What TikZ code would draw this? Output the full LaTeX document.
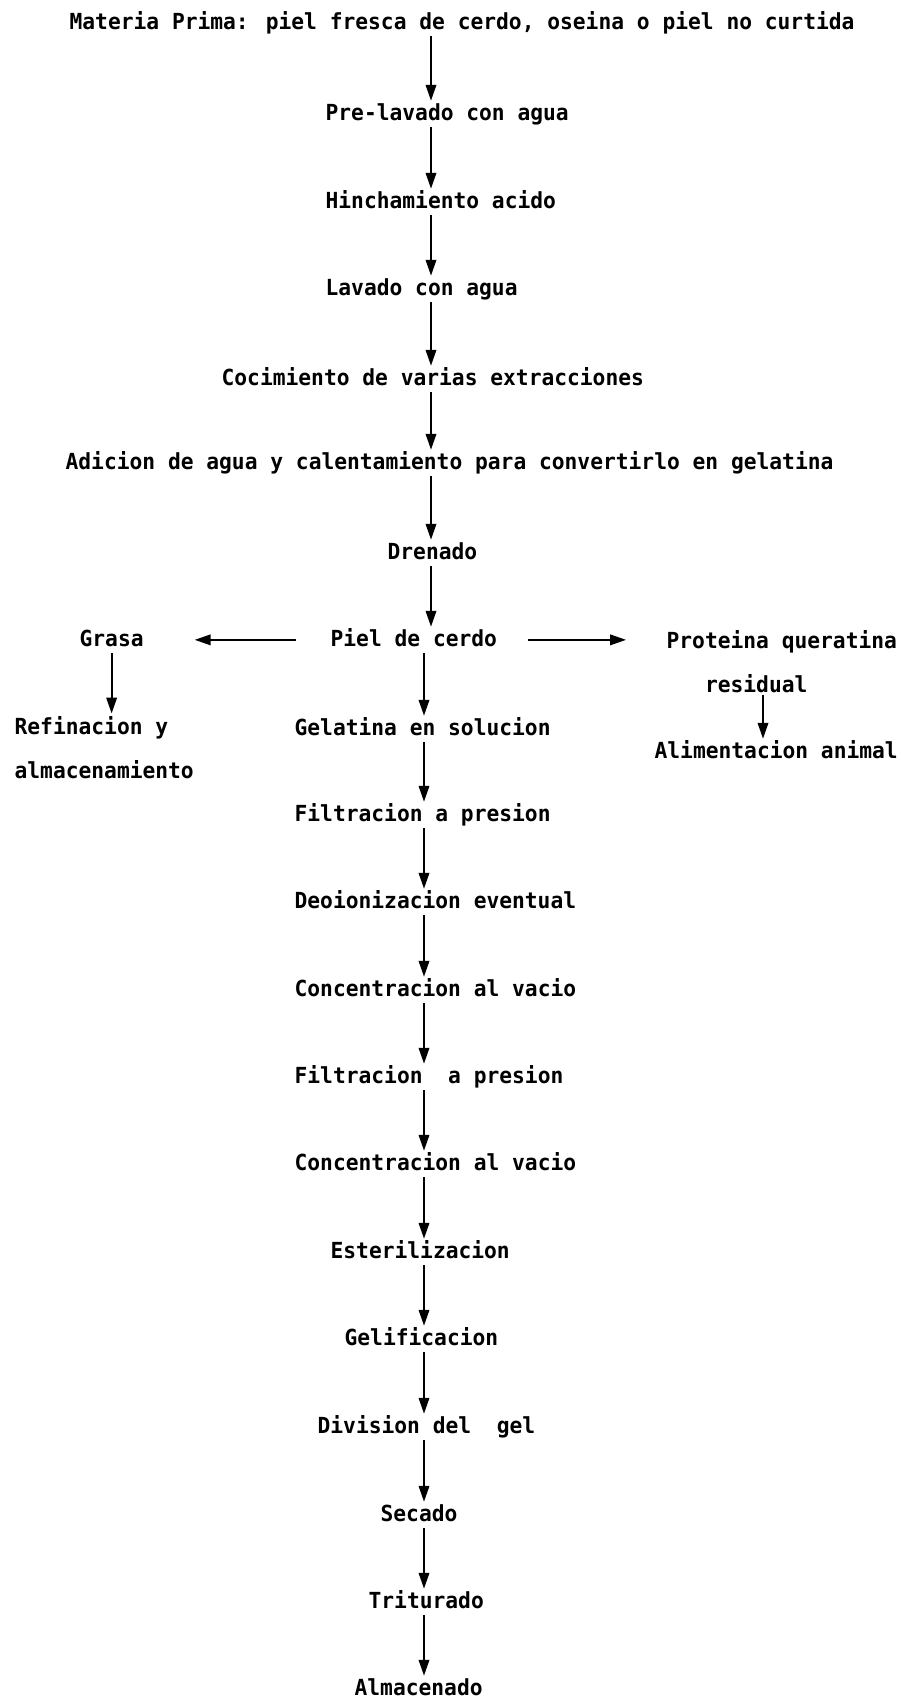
\documentclass[tikz,border=0pt]{standalone}
\usepackage{fontspec}
\usepackage{tikz}
\usetikzlibrary{arrows.meta}
\newfontfamily\pixfont{DejaVu Sans Mono}[FakeStretch=0.96]
\newcommand{\letra}{\pixfont\bfseries\fontsize{12.6pt}{25pt}\selectfont}

\begin{document}
\begin{tikzpicture}[
    paso/.style={font=\letra, inner sep=0pt, outer sep=1.5pt, anchor=base west,
      text height=9.5pt, text depth=2.5pt},
    bloque/.style={font=\letra, inner sep=0pt, outer sep=1.5pt, anchor=base west, align=left},
    flecha/.style={line width=1pt, -{Triangle[length=9pt,width=6pt]}},
]
\useasboundingbox (0,0) rectangle (18,-33.96);

% ---------- etapas hasta la piel ----------
\node[paso] (materia) at (1.34,-0.58) {Materia Prima: piel fresca de cerdo, oseina o piel no curtida};
\node[paso] (prelav)  at (6.46,-2.40) {Pre-lavado con agua};
\node[paso] (hinch)   at (6.46,-4.16) {Hinchamiento acido};
\node[paso] (lavado)  at (6.46,-5.90) {Lavado con agua};
\node[paso] (cocim)   at (4.38,-7.70) {Cocimiento de varias extracciones};
\node[paso] (adicion) at (1.26,-9.38) {Adicion de agua y calentamiento para convertirlo en gelatina};
\node[paso] (drenado) at (7.70,-11.18) {Drenado};
\node[paso] (piel)    at (6.56,-12.92) {Piel de cerdo};

% ---------- ramas laterales ----------
% (base = linea de abajo en los nodos de dos lineas)
\node[paso]   (grasa)    at (1.54,-12.92) {Grasa};
\node[bloque] (refin)    at (0.24,-15.56) {Refinacion y\\almacenamiento};
\node[bloque] (proteina) at (13.28,-13.84) {Proteina queratina\\\phantom{Pro}residual};
\node[paso]   (alim)     at (13.04,-15.16) {Alimentacion animal};

% ---------- gelatina ----------
\node[paso] (gelsol)    at (5.84,-14.70) {Gelatina en solucion};
\node[paso] (filtra)    at (5.84,-16.42) {Filtracion a presion};
\node[paso] (deoion)    at (5.84,-18.16) {Deoionizacion eventual};
\node[paso] (concen)    at (5.84,-19.92) {Concentracion al vacio};
\node[paso] (filtrb)    at (5.84,-21.66) {Filtracion\ \ a presion};
\node[paso] (concenb)   at (5.84,-23.40) {Concentracion al vacio};
\node[paso] (esteril)   at (6.56,-25.16) {Esterilizacion};
\node[paso] (gelif)     at (6.84,-26.90) {Gelificacion};
\node[paso] (division)  at (6.30,-28.66) {Division del\ \ gel};
\node[paso] (secado)    at (7.56,-30.42) {Secado};
\node[paso] (triturado) at (7.32,-32.16) {Triturado};
\node[paso] (almacen)   at (7.04,-33.90) {Almacenado};

% ejes de las flechas verticales
\coordinate (eje)   at (8.62,0);
\coordinate (ejeb)  at (8.48,0);
\coordinate (ejeq)  at (15.26,0);

\draw[flecha] (materia.south -| eje) -- (prelav.north -| eje);
\draw[flecha] (prelav.south -| eje)  -- (hinch.north -| eje);
\draw[flecha] (hinch.south -| eje)   -- (lavado.north -| eje);
\draw[flecha] (lavado.south -| eje)  -- (cocim.north -| eje);
\draw[flecha] (cocim.south -| eje)   -- (adicion.north -| eje);
\draw[flecha] (adicion.south -| eje) -- (drenado.north -| eje);
\draw[flecha] (drenado.south -| eje) -- (piel.north -| eje);

\draw[flecha] (piel.south -| ejeb)      -- (gelsol.north -| ejeb);
\draw[flecha] (gelsol.south -| ejeb)    -- (filtra.north -| ejeb);
\draw[flecha] (filtra.south -| ejeb)    -- (deoion.north -| ejeb);
\draw[flecha] (deoion.south -| ejeb)    -- (concen.north -| ejeb);
\draw[flecha] (concen.south -| ejeb)    -- (filtrb.north -| ejeb);
\draw[flecha] (filtrb.south -| ejeb)    -- (concenb.north -| ejeb);
\draw[flecha] (concenb.south -| ejeb)   -- (esteril.north -| ejeb);
\draw[flecha] (esteril.south -| ejeb)   -- (gelif.north -| ejeb);
\draw[flecha] (gelif.south -| ejeb)     -- (division.north -| ejeb);
\draw[flecha] (division.south -| ejeb)  -- (secado.north -| ejeb);
\draw[flecha] (secado.south -| ejeb)    -- (triturado.north -| ejeb);
\draw[flecha] (triturado.south -| ejeb) -- (almacen.north -| ejeb);

% salidas laterales de la piel
\draw[flecha, shorten <=0.64cm, shorten >=0.97cm] (piel.west) -- (grasa.east);
\draw[flecha, shorten <=0.56cm, shorten >=0.76cm] (piel.east) -- (piel.east -| proteina.west);
\draw[flecha] (grasa.south) -- (refin.north -| grasa.south);
\draw[flecha] (proteina.south -| ejeq) -- (alim.north -| ejeq);

\end{tikzpicture}
\end{document}
